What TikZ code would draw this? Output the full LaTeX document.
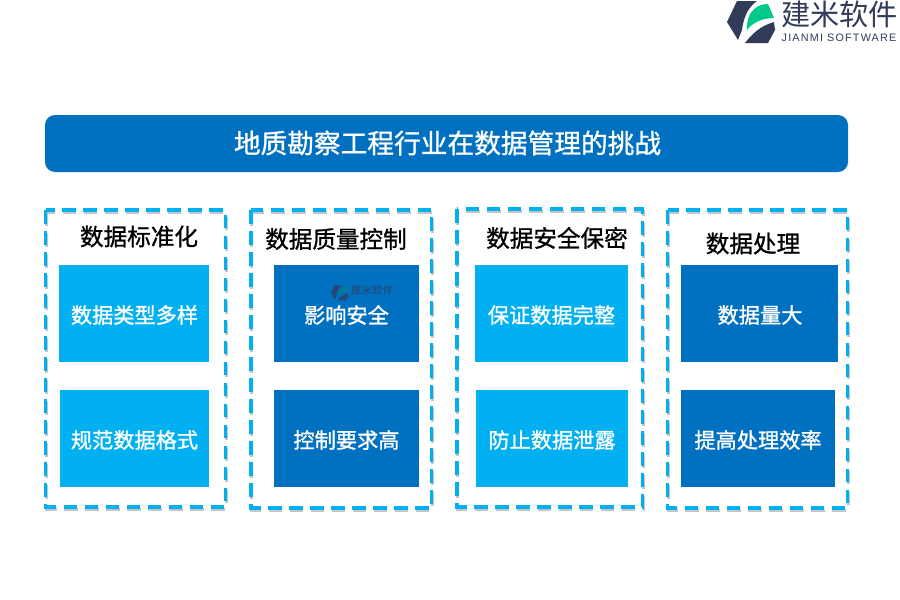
\documentclass[tikz,border=0pt]{standalone}
\usepackage{fontspec}
\setmainfont{Noto Sans CJK SC}
\newfontfamily\cjkb{Noto Sans CJK SC}[FakeBold=1.2]
\newfontfamily\cjkh{Noto Sans CJK SC}[FakeBold=1.0]
\newfontfamily\latn{Liberation Sans}[LetterSpace=11]
\definecolor{lightb}{HTML}{00B0F0}
\definecolor{darkb}{HTML}{0070C0}
\definecolor{navy}{HTML}{323C5A}
\definecolor{mint}{HTML}{00C98A}
\tikzset{
  x=1pt,y=-1pt,
  title/.style={fill=darkb,rounded corners=10pt},
  framebox/.style={draw=lightb,line width=3.5pt,dash pattern=on 13.5pt off 7.5pt},
  frameshadow/.style={draw=black!45,opacity=.5,line width=3pt,dash pattern=on 13.5pt off 7.5pt},
  tile/.style={anchor=center,inner sep=0,outer sep=0,text=white,font=\cjkb\fontsize{21}{21}\selectfont},
  lighttile/.style={tile,fill=lightb},
  darktile/.style={tile,fill=darkb},
  headtext/.style={font=\cjkh\fontsize{23.6}{24}\selectfont,text=black,inner sep=0},
  tilelabel/.style={inner sep=0,text=white,font=\cjkb\fontsize{21.2}{21}\selectfont},
}
% logo drawn in the coordinates of the big logo
\newcommand{\logomark}[2]{%
  \fill[#1] (737,1) -- (757,1) .. controls (750,6) and (744,14) .. (742,30) -- (738,40) -- (727,22) -- cycle;
  \fill[#1] (745,43) -- (768,43) -- (775,30) -- (774,22) .. controls (760,26) and (752,34) .. (745,43) -- cycle;
  \fill[#2] (747,30) .. controls (746,14) and (755,4) .. (768,4) -- (774,18) .. controls (762,18) and (752,23) .. (747,30) -- cycle;
}
\begin{document}
\begin{tikzpicture}
\useasboundingbox (0,0) rectangle (900,600);
% logo
\logomark{navy}{mint}
\node[inner sep=0,text=navy,font=\fontsize{29.2}{29}\selectfont] (brand) at (839.5,14) {建米软件};
\node[inner sep=0,text=navy,font=\latn\fontsize{10.8}{11}\selectfont] (brandlat) at (839,38) {JIANMI SOFTWARE};
% title
\fill[title] (45,115) rectangle (848,172);
\node[inner sep=0,text=white,font=\cjkh\fontsize{26.7}{27}\selectfont] (head) at (447.5,143) {地质勘察工程行业在数据管理的挑战};
% frames
\foreach \a/\b/\c/\d in {45.5/210/225.5/507,251/210/431.5/508,457/209/642.5/507,667.5/210/847.5/508}{
  \draw[frameshadow] (\a+.5,\b+2) rectangle (\c+.5,\d+2);
  \draw[framebox] (\a,\b) rectangle (\c,\d);
}
% heads
\node[headtext] (h1) at (139,236.5) {数据标准化};
\node[headtext] (h2) at (336,239) {数据质量控制};
\node[headtext] (h3) at (557,238) {数据安全保密};
\node[headtext] (h4) at (753,243.5) {数据处理};
% tiles
\node[lighttile,minimum width=150pt,minimum height=97pt] (a1) at (134,313.5) {};
\node[lighttile,minimum width=149pt,minimum height=97pt] (a2) at (134.5,438.5) {};
\node[darktile,minimum width=145pt,minimum height=97pt] (b1) at (346.5,313.5) {};
\node[darktile,minimum width=145pt,minimum height=97pt] (b2) at (346.5,438.5) {};
\node[lighttile,minimum width=153pt,minimum height=97pt] (c1) at (551.5,313.5) {};
\node[lighttile,minimum width=152pt,minimum height=97pt] (c2) at (552,438.5) {};
\node[darktile,minimum width=157pt,minimum height=97pt] (d1) at (759.5,313.5) {};
\node[darktile,minimum width=154pt,minimum height=97pt] (d2) at (758,438.5) {};
% watermark on tile b1
\begin{scope}[shift={(331,285)},scale=0.36,shift={(-727,0)}]
  \logomark{navy!75!darkb}{teal!70!darkb}
\end{scope}
\node[inner sep=0,text=navy!80!darkb,font=\fontsize{10.5}{11}\selectfont] (wm) at (372,291) {建米软件};
% tile labels
\node[tilelabel] (a1t) at (134.5,315) {数据类型多样};
\node[tilelabel] (a2t) at (134.5,440) {规范数据格式};
\node[tilelabel] (b1t) at (346.5,315) {影响安全};
\node[tilelabel] (b2t) at (346.5,440) {控制要求高};
\node[tilelabel] (c1t) at (551.5,315) {保证数据完整};
\node[tilelabel] (c2t) at (552,440) {防止数据泄露};
\node[tilelabel] (d1t) at (760,315) {数据量大};
\node[tilelabel] (d2t) at (758,440) {提高处理效率};
\end{tikzpicture}
\end{document}
